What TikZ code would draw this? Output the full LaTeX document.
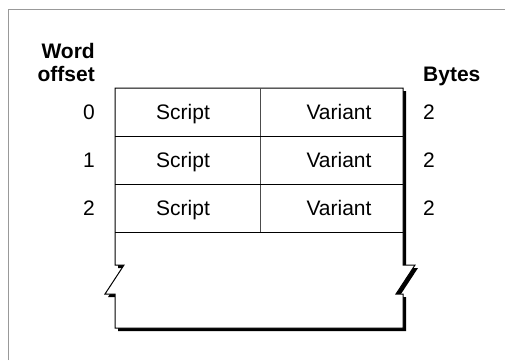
\documentclass[tikz,border=0pt]{standalone}
\usepackage{fontspec}
\setmainfont{Liberation Sans}
\usetikzlibrary{positioning}

\begin{document}
\begin{tikzpicture}[x=1pt,y=-1pt]
\useasboundingbox (0,0) rectangle (505,360);
\draw [black!40,line width=1pt] (8,360) -- (8,9) -- (505,9);
% shadow, then the block itself
\fill [black,shift={(3,3)}] (115,88) -- (403,88) -- (403,265) -- (415,265) -- (396,294) -- (403,294) -- (403,328)
  -- (115,328) -- (115,294) -- (105,294) -- (124,265) -- (115,265) -- cycle;
\filldraw [fill=white,draw=black,line width=1pt] (115,88) -- (403,88) -- (403,265) -- (415,265) -- (396,294) -- (403,294) -- (403,328)
  -- (115,328) -- (115,294) -- (105,294) -- (124,265) -- (115,265) -- cycle;
\draw [black!70,line width=1pt] (260,88) -- (260,232);
\begin{scope}[every node/.style={font=\fontsize{21}{23}\selectfont, inner sep=0pt}]
\node [font=\fontsize{21}{23}\selectfont\bfseries,anchor=base east] (word) at (95,58) {Word};
\node [font=\fontsize{21}{23}\selectfont\bfseries,anchor=base east] (offset) at (95,81) {offset};
\node [font=\fontsize{21}{23}\selectfont\bfseries,anchor=base west] (bytes) at (423,81) {Bytes};
\foreach \x in {0,...,2} {
  \draw [black,line width=1pt] (115,136+48*\x) -- (403,136+48*\x);
  \node [anchor=base east] (off\x)    at (95,119+48*\x)  {\x};
  \node [anchor=base]      (script\x) at (183,119+48*\x) {Script};
  \node [anchor=base]      (var\x)    at (339,119+48*\x) {Variant};
  \node [anchor=base west] (size\x)   at (423,119+48*\x) {2};
}
\end{scope}
\end{tikzpicture}
\end{document}
